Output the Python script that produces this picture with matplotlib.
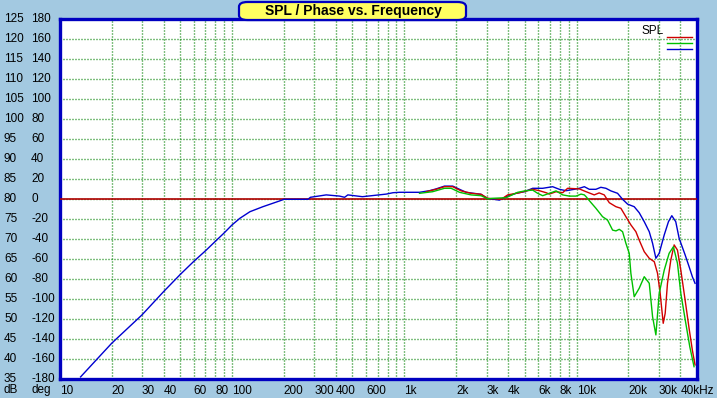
import numpy as np
import matplotlib
matplotlib.use("Agg")
import matplotlib.pyplot as plt
from matplotlib.patches import FancyBboxPatch
from matplotlib.transforms import blended_transform_factory

# frequency (Hz) / SPL (dB)
blue_f = [13.2, 20, 30, 40, 50, 60, 70, 80, 90, 100, 111, 127, 151, 189, 200, 276,
          285, 352, 421, 450, 470, 571, 785, 860, 938, 1225, 1400, 1530, 1710, 1910,
          2090, 2285, 2790, 3005, 3565, 3980, 4455, 4975, 5560, 6355, 7260, 7940,
          8690, 9705, 10370, 11090, 11850, 12950, 13830, 14800, 15820, 17290, 18490,
          19760, 21600, 23090, 24700, 26410, 27610, 28860, 30170, 32270, 34140,
          35710, 37640, 39380, 42660, 44990, 46990, 48700]
blue_db = [35.4, 43.8, 50.9, 56.7, 61.0, 64.3, 66.9, 69.3, 71.4, 73.4, 75.05, 76.7,
           77.95, 79.4, 79.8, 79.8, 80.3, 80.9, 80.6, 80.3, 80.9, 80.45, 81.1, 81.45,
           81.55, 81.55, 81.95, 82.4, 83.1, 83.1, 82.3, 81.55, 81.05, 80.05, 79.6,
           80.6, 81.3, 81.7, 82.55, 82.55, 82.95, 82.3, 81.95, 82.3, 82.55, 82.95,
           82.3, 82.3, 82.8, 82.55, 81.9, 81.3, 79.8, 78.6, 77.95, 76.45, 74.2, 71.7,
           68.8, 65.05, 66.3, 70.9, 74.2, 75.7, 74.2, 70.05, 65.9, 62.95, 60.45, 58.8]

red_f = [1340, 1530, 1710, 1910, 2140, 2440, 2790, 3050, 3650, 3980, 4660, 5560,
         6080, 6650, 6950, 7600, 8300, 8870, 10370, 11350, 12660, 13520, 14470,
         15480, 16920, 18080, 19330, 20660, 22090, 23090, 24700, 26410, 28240,
         29500, 30560, 31830, 32680, 33700, 35230, 36840, 38510, 40270, 42660,
         44990, 46990, 48700]
red_db = [81.7, 82.3, 82.95, 82.95, 81.9, 81.3, 81.05, 80.05, 79.8, 80.9, 81.45,
          82.3, 81.95, 81.45, 81.1, 81.7, 81.45, 82.55, 82.4, 81.7, 80.9, 81.4, 80.9,
          78.95, 77.95, 77.55, 75.45, 73.4, 71.7, 69.6, 66.7, 65.05, 64.2, 61.3,
          56.3, 48.8, 51.3, 58.8, 64.6, 68.4, 67.1, 62.1, 54.6, 47.5, 42.1, 38.4]

green_f = [1225, 1460, 1710, 1870, 2090, 2440, 2790, 3050, 3260, 3900, 4550, 5090,
           5560, 5940, 6355, 6950, 7600, 8300, 9080, 9930, 10610, 11090, 11350,
           12110, 12950, 14150, 15130, 16180, 16920, 17690, 18490, 19330, 20210,
           20660, 21600, 23090, 24700, 26410, 27610, 28860, 30170, 32270, 34450,
           36490, 38510, 40270, 43050, 45400, 48060]
green_db = [81.3, 81.7, 82.55, 82.55, 81.55, 80.9, 80.7, 79.9, 80.05, 80.2, 81.55,
            81.95, 82.1, 81.3, 80.7, 81.3, 81.9, 80.9, 80.6, 80.6, 81.1, 80.9, 80.45,
            79.0, 77.55, 75.45, 74.6, 72.1, 71.9, 72.3, 71.7, 68.8, 66.3, 61.3, 55.45,
            57.55, 60.45, 58.8, 50.45, 45.9, 56.3, 62.1, 66.3, 67.95, 63.8, 56.3,
            48.8, 42.95, 37.95]

x_major = [10, 20, 30, 40, 60, 80, 100, 200, 300, 400, 600, 1000, 2000, 3000,
           4000, 6000, 8000, 10000, 20000, 30000, 40000]
x_labels = ["10", "20", "30", "40", "60", "80", "100", "200", "300", "400", "600",
            "1k", "2k", "3k", "4k", "6k", "8k", "10k", "20k", "30k", "40kHz"]
x_minor = [50, 70, 90, 500, 700, 800, 900, 5000, 7000, 9000]
db_ticks = list(range(35, 130, 5))
deg_ticks = [(d - 80) * 4 for d in db_ticks]

BG = "#A3C9E1"
W, H = 717, 398

plt.rcParams["font.family"] = ["Liberation Sans", "DejaVu Sans"]
fig = plt.figure(figsize=(W / 100, H / 100), dpi=100, facecolor=BG)

def fx(x):
    return x / W

def fy(y):
    return 1 - y / H

ax = fig.add_axes([fx(59.8), fy(378.5), fx(697) - fx(59.8), fy(18.5) - fy(378.5)])
ax.set_xscale("log")
ax.set_xlim(10, 50000)
ax.set_ylim(35, 125)

ax.set_xticks(x_major)
ax.set_xticks(x_minor, minor=True)
ax.set_xticklabels(x_labels, ha="left", fontsize=8.5)
ax.set_xticklabels([], minor=True)
ax.set_yticks(db_ticks)
ax.set_yticklabels([])
ax.tick_params(which="both", length=0, pad=5)
ax.grid(True, which="both", color="#008000", linestyle=(0, (0.72, 1.44)), linewidth=1.0)

for s in ax.spines.values():
    s.set_color("#0000C0")
    s.set_linewidth(2.4)

ax.axhline(80, color="#B00000", lw=1.2, zorder=3)

ax.plot(blue_f, blue_db, color="#0000D0", lw=1.0, zorder=4)
ax.plot(red_f, red_db, color="#D00000", lw=1.0, zorder=5)
ax.plot(green_f, green_db, color="#00C000", lw=1.0, zorder=6)

# left columns: dB and deg
tr = blended_transform_factory(fig.transFigure, ax.transData)
for d, g in zip(db_ticks, deg_ticks):
    fig.text(fx(4), d, str(d), transform=tr, va="center", ha="left", fontsize=8.5)
    fig.text(fx(31), d, str(g), transform=tr, va="center", ha="left", fontsize=8.5)
fig.text(fx(4), fy(390), "dB", va="center", ha="left", fontsize=8.5)
fig.text(fx(31), fy(390), "deg", va="center", ha="left", fontsize=8.5)

# title box
box = FancyBboxPatch((fx(239), fy(20)), fx(466) - fx(239), fy(2) - fy(20),
                     boxstyle="round,pad=0,rounding_size=0.012",
                     transform=fig.transFigure, facecolor="#FFFF60",
                     edgecolor="#0000C0", lw=1.6, zorder=10)
fig.patches.append(box)
fig.text(fx(353), fy(10.5), "SPL / Phase vs. Frequency", ha="center", va="center",
         fontsize=10, fontweight="bold", zorder=11)

# legend
fig.text(fx(642), fy(31), "SPL", ha="left", va="center", fontsize=8.5)
for yy, c in [(37.3, "#D00000"), (43.3, "#00C000"), (49, "#0000D0")]:
    fig.add_artist(plt.Line2D([fx(667), fx(692)], [fy(yy), fy(yy)], color=c, lw=1.0,
                              transform=fig.transFigure))

fig.savefig("out.png", dpi=100, facecolor=BG)
